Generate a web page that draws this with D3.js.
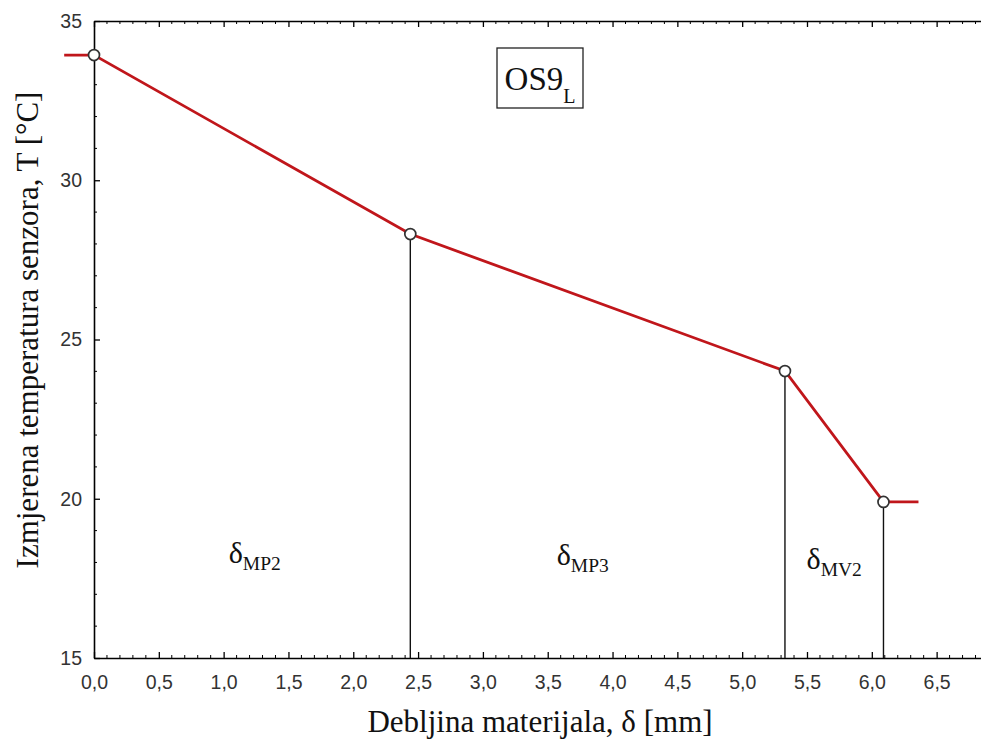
<!DOCTYPE html>
<html>
<head>
<meta charset="utf-8">
<script src="https://cdn.jsdelivr.net/npm/d3@7"></script>
<style>
  body { margin: 0; background: #fff; }
  .tick text { font-family: "Liberation Sans", Arial, sans-serif; font-size: 19.5px; fill: #333; }
  .serif { font-family: "Liberation Serif", "DejaVu Serif", serif; fill: #111; }
</style>
</head>
<body>
<svg id="chart"></svg>
<script>
// measured points of the temperature profile
const thickness = [0, 2.44, 5.33, 6.09];
const temperature = [33.93, 28.31, 24.01, 19.9];
// short stubs outside the material
const leftStub = [-0.23, 33.93];
const rightStub = [6.36, 19.9];
const layerLabels = [
    { x: 1.24, y: 17.98, main: "δ", sub: "MP2" },
    { x: 3.77, y: 17.92, main: "δ", sub: "MP3" },
    { x: 5.71, y: 17.79, main: "δ", sub: "MV2" }
];
const xTicks = [0, 0.5, 1, 1.5, 2, 2.5, 3, 3.5, 4, 4.5, 5, 5.5, 6, 6.5];
const yTicks = [15, 20, 25, 30, 35];

const width = 981, height = 749;
const margin = { top: 21, right: -1, bottom: 91, left: 94 };

const svg = d3.select("#chart").attr("width", width).attr("height", height);

const x = d3.scaleLinear().domain([0, 6.85]).range([margin.left, width - margin.right]);
const y = d3.scaleLinear().domain([15, 35]).range([height - margin.bottom, margin.top]);

const fmt = d => d3.format(".1f")(d).replace(".", ",");
const minorX = d3.range(0, 6.85, 0.1).filter(v => Math.abs(v * 2 - Math.round(v * 2)) > 0.01);
const minorY = d3.range(15, 35, 1).filter(v => v % 5 !== 0);

// bottom axis, ticks inward
const axBottom = svg.append("g").attr("transform", `translate(0,${y(15)})`)
    .call(d3.axisBottom(x).tickValues(xTicks).tickFormat(fmt).tickSizeInner(-6).tickSizeOuter(0).tickPadding(17));
axBottom.append("g").selectAll("line").data(minorX).join("line")
    .attr("x1", d => x(d)).attr("x2", d => x(d)).attr("y1", 0).attr("y2", -3).attr("stroke", "#000");

// top axis
const axTop = svg.append("g").attr("transform", `translate(0,${y(35)})`)
    .call(d3.axisTop(x).tickValues(xTicks).tickFormat("").tickSizeInner(-6).tickSizeOuter(0));
axTop.append("g").selectAll("line").data(minorX).join("line")
    .attr("x1", d => x(d)).attr("x2", d => x(d)).attr("y1", 0).attr("y2", 3).attr("stroke", "#000");

// left axis
const axLeft = svg.append("g").attr("transform", `translate(${x(0)},0)`)
    .call(d3.axisLeft(y).tickValues(yTicks).tickSizeInner(-6).tickSizeOuter(0).tickPadding(12));
axLeft.append("g").selectAll("line").data(minorY).join("line")
    .attr("y1", d => y(d)).attr("y2", d => y(d)).attr("x1", 0).attr("x2", 3).attr("stroke", "#000");

svg.selectAll(".domain").attr("stroke", "#000").attr("stroke-width", 1.6);
svg.selectAll(".tick line").attr("stroke", "#000").attr("stroke-width", 1.3);

// vertical boundaries between layers
svg.append("g").selectAll("line").data(thickness.slice(1)).join("line")
    .attr("x1", d => x(d)).attr("x2", d => x(d))
    .attr("y1", (d, i) => y(temperature[i + 1])).attr("y2", y(15))
    .attr("stroke", "#111").attr("stroke-width", 1.4);

// profile line
const pts = [leftStub, ...thickness.map((t, i) => [t, temperature[i]]), rightStub];
svg.append("path").datum(pts)
    .attr("d", d3.line().x(d => x(d[0])).y(d => y(d[1])))
    .attr("fill", "none").attr("stroke", "#c0161b").attr("stroke-width", 2.8);

svg.append("g").selectAll("circle").data(thickness).join("circle")
    .attr("cx", d => x(d)).attr("cy", (d, i) => y(temperature[i]))
    .attr("r", 5.5).attr("fill", "#fff").attr("stroke", "#333").attr("stroke-width", 1.7);

// layer labels
layerLabels.forEach(l => {
    const t = svg.append("text").attr("class", "serif")
        .attr("x", x(l.x)).attr("y", y(l.y)).attr("text-anchor", "middle");
    t.append("tspan").attr("font-size", 30).text(l.main);
    t.append("tspan").attr("font-size", 19.5).attr("dy", 7).text(l.sub);
});

// title box
svg.append("rect").attr("x", 497).attr("y", 48).attr("width", 86).attr("height", 60)
    .attr("fill", "none").attr("stroke", "#222").attr("stroke-width", 1.3);
const title = svg.append("text").attr("class", "serif").attr("x", 540).attr("y", 90).attr("text-anchor", "middle");
title.append("tspan").attr("font-size", 33).text("OS9");
title.append("tspan").attr("font-size", 20).attr("dy", 13).text("L");

// axis titles
svg.append("text").attr("class", "serif").attr("font-size", 31)
    .attr("x", 540).attr("y", 732).attr("text-anchor", "middle")
    .text("Debljina materijala, δ [mm]");
svg.append("text").attr("class", "serif").attr("font-size", 31)
    .attr("transform", `translate(38,330) rotate(-90)`)
    .attr("text-anchor", "middle")
    .text("Izmjerena temperatura senzora, T [°C]");
</script>
</body>
</html>
